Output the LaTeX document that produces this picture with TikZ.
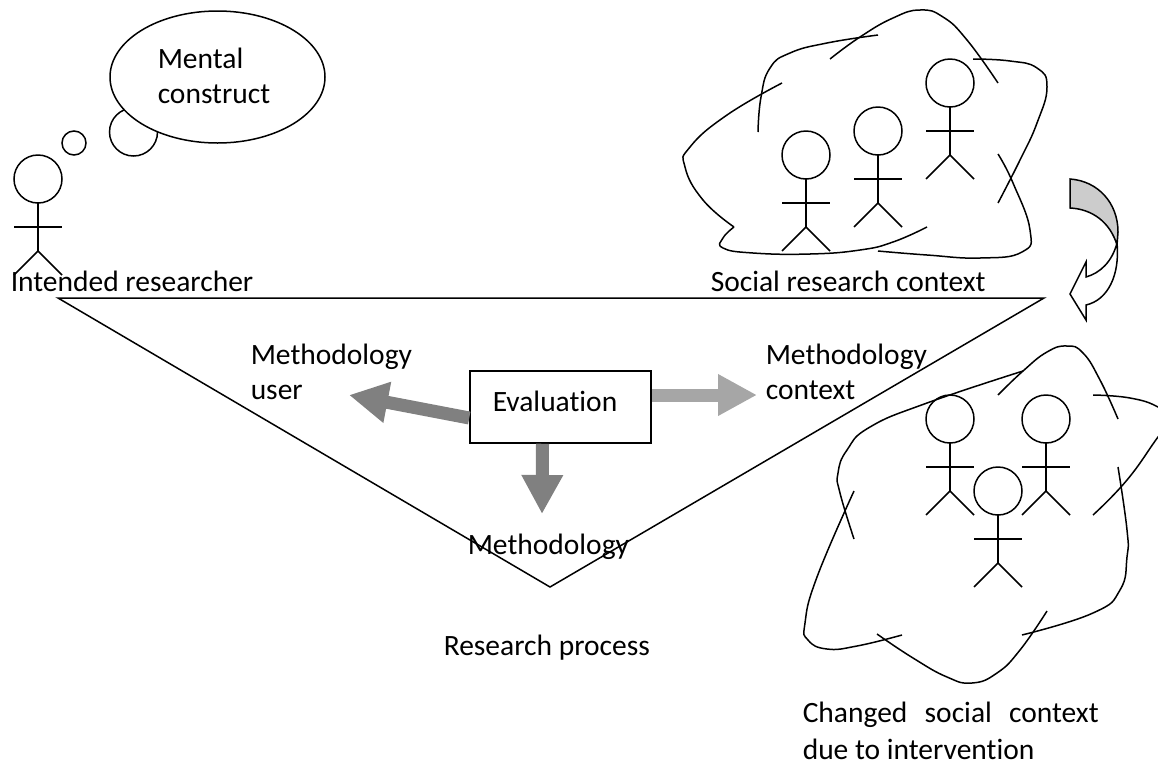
\documentclass[tikz,border=0pt]{standalone}
\usepackage{fontspec}
\setmainfont{Carlito}[Ligatures=NoCommon]
\usetikzlibrary{arrows.meta,shapes.geometric}

\begin{document}
\begin{tikzpicture}
      [x = 1pt, y = -1pt,
      line width = 1.5pt,
      txt/.style= {
         font = \fontsize{29.5}{36}\selectfont,
         inner sep = 0pt,
         anchor = base west,
         align = left
      },
      blob/.style= {
         smooth,
         tension = 0.8
      },
      block/.style= {
         line width = 13pt,
         -{Triangle[width = 39pt, length = 39pt]}
      }]

      \clip (0, 0) rectangle (1158, 761);

      % thought bubble
      \draw (74, 143) circle [radius = 12];
      \draw (133.5, 132) circle [radius = 24];
      \node (bubble) [draw, fill = white, ellipse, inner sep = 0pt,
         minimum width = 215pt, minimum height = 132pt] at (217.5, 77) {};

      % stick figures
      \foreach \x/\y in {38/179, 806/155, 878/131, 950/83, 950/419, 1046/419, 998/491} {
         \draw (\x, \y) circle [radius = 24];
         \draw (\x, \y + 24) -- (\x, \y + 72);
         \draw (\x - 24, \y + 48) -- (\x + 24, \y + 48);
         \draw (\x - 24, \y + 96) -- (\x, \y + 72) -- (\x + 24, \y + 96);
      }

      % social research context
      \draw plot[blob] coordinates {(758, 132) (761, 97) (770, 68) (790, 53) (827, 43) (878, 35)};
      \draw plot[blob] coordinates {(830, 59) (860, 37) (893, 18) (920, 10) (943, 17) (967, 40) (998, 83)};
      \draw plot[blob] coordinates {(973, 59) (1010, 61) (1037, 68) (1047, 87) (1037, 123) (1020, 160) (998, 203)};
      \draw plot[blob] coordinates {(998, 154) (1013, 183) (1030, 230) (1022, 252) (980, 258) (927, 255) (878, 251)};
      \draw plot[blob] coordinates {(927, 227) (893, 242) (860, 250) (810, 254) (753, 253) (723, 248) (723, 238) (734, 227)};
      \draw plot[blob] coordinates {(734, 227) (703, 200) (685, 167) (690, 147) (727, 115) (782, 83)};

      % changed social context
      \draw plot[blob] coordinates {(998, 395) (1023, 371) (1047, 352) (1067, 346) (1083, 353) (1100, 380) (1118, 419)};
      \draw plot[blob] coordinates {(1093, 395) (1130, 398) (1158, 407) (1172, 420) (1158, 437) (1127, 480) (1093, 515)};
      \draw plot[blob] coordinates {(1118, 467) (1127, 530) (1127, 557) (1120, 590) (1093, 613) (1022, 635)};
      \draw plot[blob] coordinates {(1047, 611) (1020, 650) (997, 673) (972, 683) (947, 677) (913, 658) (877, 634)};
      \draw plot[blob] coordinates {(902, 635) (857, 646) (827, 649) (808, 640) (805, 623) (817, 577) (854, 491)};
      \draw plot[blob] coordinates {(854, 539) (840, 493) (838, 473) (847, 450) (870, 427) (927, 403) (1023, 371)};

      % curved arrow
      \draw[fill = black!20] (1070, 179) .. controls (1098, 181) and (1118, 203) .. (1118, 232)
         -- (1117, 245) .. controls (1110, 222) and (1092, 209) .. (1070, 208) -- cycle;
      \draw[fill = white] (1117, 243) .. controls (1120, 275) and (1108, 300) .. (1086, 305)
         -- (1086, 320) -- (1070, 294) -- (1086, 262) -- (1086, 277)
         .. controls (1100, 273) and (1112, 262) .. (1117, 243) -- cycle;

      % research process
      \coordinate (topleft) at (58, 298);
      \coordinate (topright) at (1044, 298);
      \coordinate (apex) at (550, 587);
      \draw (topleft) -- (topright) -- (apex) -- cycle;

      \node (eval) [draw, minimum width = 181pt, minimum height = 72pt, inner sep = 0pt] at (560.5, 407) {};
      \coordinate (usertip) at (349, 395);
      \coordinate (contexttip) at (757, 395);
      \coordinate (methodtip) at (542, 514);
      \draw[block, black!50] ([yshift = -11pt]eval.west) -- (usertip);
      \draw[block, black!35] ([yshift = 12pt]eval.east) -- (contexttip);
      \draw[block, black!50] ([xshift = -18pt]eval.south) -- (methodtip);

      \node (mental) [txt] at (157, 68) {Mental};
      \node (construct) [txt] at (157, 103) {construct};
      \node (researcher) [txt] at (10, 291) {Intended researcher};
      \node (social) [txt] at (710, 291) {Social research context};
      \node (user1) [txt] at (250, 364) {Methodology};
      \node (user2) [txt] at (250, 399) {user};
      \node (context1) [txt] at (765, 364) {Methodology};
      \node (context2) [txt] at (765, 399) {context};
      \node (evaluation) [txt] at (492, 411) {Evaluation};
      \node (methodology) [txt] at (467, 554) {Methodology};
      \node (process) [txt] at (443, 655) {Research process};
      \node (changed1) [txt] at (802, 722) {\makebox[296pt][s]{Changed social context}};
      \node (changed2) [txt] at (802, 759) {due to intervention};

   \end{tikzpicture}
\end{document}
